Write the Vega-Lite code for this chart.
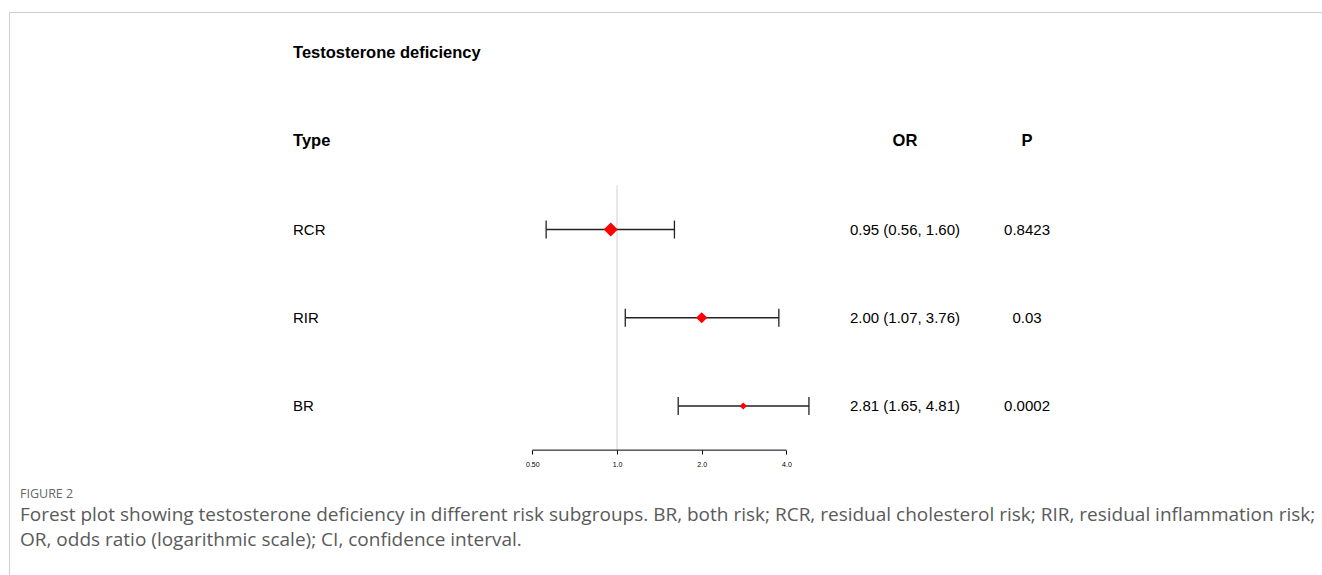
{
  "$schema": "https://vega.github.io/schema/vega-lite/v6.json",
  "width": 1313,
  "height": 563,
  "autosize": {"type": "none"},
  "padding": {"left": 9, "top": 12, "right": 0, "bottom": 0},
  "background": "white",
  "config": {
    "view": {"stroke": "#cfcfcf", "strokeWidth": 1},
    "font": "Liberation Sans"
  },
  "title": {
    "text": "FIGURE 2",
    "subtitle": [
      "Forest plot showing testosterone deficiency in different risk subgroups. BR, both risk; RCR, residual cholesterol risk; RIR, residual inflammation risk;",
      "OR, odds ratio (logarithmic scale); CI, confidence interval."
    ],
    "orient": "bottom",
    "anchor": "start",
    "frame": "group",
    "offset": -87,
    "dx": 11,
    "font": "Open Sans",
    "fontSize": 12.5,
    "fontWeight": "normal",
    "color": "#666666",
    "subtitleFont": "Open Sans",
    "subtitleFontSize": 19,
    "subtitleColor": "#5a5a5a",
    "subtitleLineHeight": 25,
    "subtitlePadding": 5
  },
  "datasets": {
    "rows": [
      {"type": "RCR", "row": 2, "or": 0.95, "lo": 0.56, "hi": 1.60, "orci": "0.95 (0.56, 1.60)", "p": "0.8423"},
      {"type": "RIR", "row": 3, "or": 2.00, "lo": 1.07, "hi": 3.76, "orci": "2.00 (1.07, 3.76)", "p": "0.03"},
      {"type": "BR", "row": 4, "or": 2.81, "lo": 1.65, "hi": 4.81, "orci": "2.81 (1.65, 4.81)", "p": "0.0002"}
    ],
    "leftHead": [
      {"row": 0, "label": "Testosterone deficiency"},
      {"row": 1, "label": "Type"}
    ],
    "orHead": [{"row": 1, "label": "OR"}],
    "pHead": [{"row": 1, "label": "P"}]
  },
  "layer": [
    {
      "data": {"values": [{}]},
      "mark": {"type": "rule", "color": "#d0d0d0", "strokeWidth": 1},
      "encoding": {
        "x": {
          "datum": 1,
          "type": "quantitative",
          "scale": {"type": "log", "base": 2, "domain": [0.006905, 320.3], "nice": false},
          "axis": {
            "values": [0.5, 1, 2, 4],
            "labelExpr": "datum.value < 1 ? format(datum.value, '.2f') : format(datum.value, '.1f')",
            "offset": -125,
            "domain": false,
            "grid": false,
            "ticks": true,
            "tickSize": 4,
            "tickColor": "#000000",
            "tickWidth": 1,
            "labelFontSize": 7,
            "labelColor": "#000000",
            "labelPadding": 6,
            "labelFont": "Liberation Sans",
            "title": null
          }
        },
        "y": {
          "datum": 1.5,
          "type": "quantitative",
          "scale": {"domain": [-0.4646, 5.915], "reverse": true, "nice": false, "zero": false},
          "axis": null
        },
        "y2": {"datum": 4.5}
      }
    },
    {
      "data": {"values": [{}]},
      "mark": {"type": "rule", "color": "#000000", "strokeWidth": 1},
      "encoding": {
        "x": {"datum": 0.5, "type": "quantitative"},
        "x2": {"datum": 4},
        "y": {"datum": 4.5, "type": "quantitative"}
      }
    },
    {
      "data": {"name": "rows"},
      "mark": {"type": "rule", "color": "#222222", "strokeWidth": 1.3},
      "encoding": {
        "x": {"field": "lo", "type": "quantitative"},
        "x2": {"field": "hi"},
        "y": {"field": "row", "type": "quantitative"}
      }
    },
    {
      "data": {"name": "rows"},
      "mark": {"type": "tick", "orient": "vertical", "color": "#222222", "size": 18, "thickness": 1.3, "opacity": 1},
      "encoding": {
        "x": {"field": "lo", "type": "quantitative"},
        "y": {"field": "row", "type": "quantitative"}
      }
    },
    {
      "data": {"name": "rows"},
      "mark": {"type": "tick", "orient": "vertical", "color": "#222222", "size": 18, "thickness": 1.3, "opacity": 1},
      "encoding": {
        "x": {"field": "hi", "type": "quantitative"},
        "y": {"field": "row", "type": "quantitative"}
      }
    },
    {
      "data": {"name": "rows"},
      "mark": {"type": "point", "shape": "diamond", "filled": true, "color": "#ff0000", "opacity": 1, "strokeWidth": 0},
      "encoding": {
        "x": {"field": "or", "type": "quantitative"},
        "y": {"field": "row", "type": "quantitative"},
        "size": {
          "field": "type",
          "type": "nominal",
          "scale": {"domain": ["RCR", "RIR", "BR"], "range": [200, 52, 52]},
          "legend": null
        }
      }
    },
    {
      "data": {"name": "rows"},
      "mark": {"type": "text", "align": "left", "baseline": "middle", "fontSize": 15, "color": "#000000"},
      "encoding": {
        "x": {"datum": 0.07057, "type": "quantitative"},
        "y": {"field": "row", "type": "quantitative"},
        "text": {"field": "type"}
      }
    },
    {
      "data": {"name": "rows"},
      "mark": {"type": "text", "align": "center", "baseline": "middle", "fontSize": 15, "color": "#000000"},
      "encoding": {
        "x": {"datum": 10.556, "type": "quantitative"},
        "y": {"field": "row", "type": "quantitative"},
        "text": {"field": "orci"}
      }
    },
    {
      "data": {"name": "rows"},
      "mark": {"type": "text", "align": "center", "baseline": "middle", "fontSize": 15, "color": "#000000"},
      "encoding": {
        "x": {"datum": 28.66, "type": "quantitative"},
        "y": {"field": "row", "type": "quantitative"},
        "text": {"field": "p"}
      }
    },
    {
      "data": {"name": "leftHead"},
      "mark": {"type": "text", "align": "left", "baseline": "middle", "fontSize": 16.5, "fontWeight": "bold", "color": "#000000"},
      "encoding": {
        "x": {"datum": 0.07057, "type": "quantitative"},
        "y": {"field": "row", "type": "quantitative"},
        "text": {"field": "label"}
      }
    },
    {
      "data": {"name": "orHead"},
      "mark": {"type": "text", "align": "center", "baseline": "middle", "fontSize": 16.5, "fontWeight": "bold", "color": "#000000"},
      "encoding": {
        "x": {"datum": 10.556, "type": "quantitative"},
        "y": {"field": "row", "type": "quantitative"},
        "text": {"field": "label"}
      }
    },
    {
      "data": {"name": "pHead"},
      "mark": {"type": "text", "align": "center", "baseline": "middle", "fontSize": 16.5, "fontWeight": "bold", "color": "#000000"},
      "encoding": {
        "x": {"datum": 28.66, "type": "quantitative"},
        "y": {"field": "row", "type": "quantitative"},
        "text": {"field": "label"}
      }
    }
  ]
}
